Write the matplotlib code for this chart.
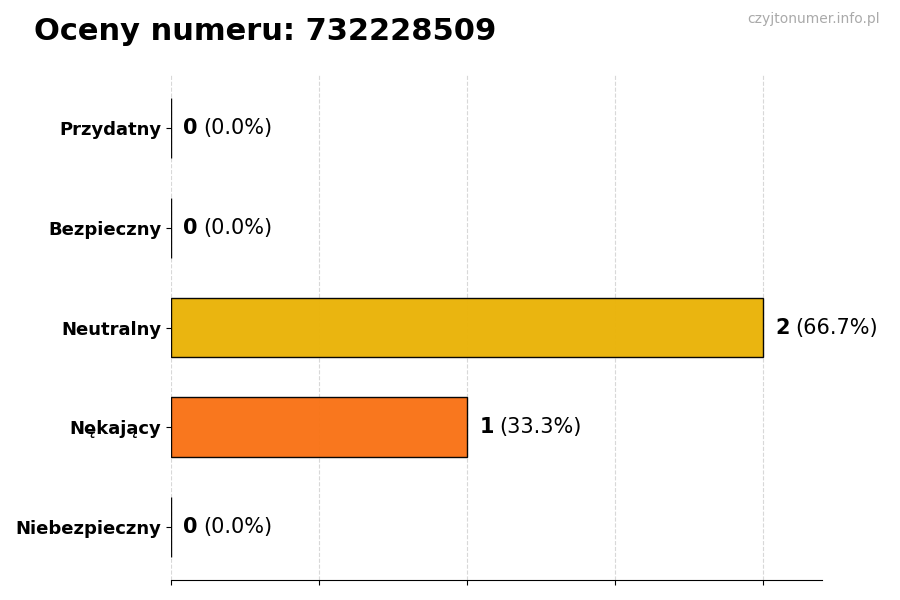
import numpy as np
from matplotlib import pyplot as plt

categories = ['Przydatny', 'Bezpieczny', 'Neutralny', 'Nękający', 'Niebezpieczny']
counts = [0, 0, 2, 1, 0]
colors = ['#22c55e', '#3b82f6', '#eab308', '#f97316', '#ef4444']
phone = '732228509'

total = sum(counts)
percents = [100.0 * c / total if total else 0.0 for c in counts]

fig = plt.figure(figsize=(9, 6), dpi=100)
ax = fig.add_axes([0.19, 0.0333, 0.723, 0.8417])

y = np.arange(len(categories))[::-1]
ax.barh(y, counts, height=0.6, color=colors, edgecolor='black',
        linewidth=1, alpha=0.97, zorder=3)

ax.set_yticks(y)
ax.set_yticklabels(categories, fontsize=13, fontweight='bold')
ax.set_xlim(0, max(counts) * 1.1)
ax.set_xticks(np.arange(0, max(counts) + 0.01, 0.5))
ax.set_xticklabels([])
ax.grid(axis='x', linestyle='--', color='#d8d8d8', linewidth=0.8, zorder=0)
ax.set_axisbelow(True)

for side in ['top', 'right', 'left']:
    ax.spines[side].set_visible(False)

# value in bold, percent in normal weight right after it
for yi, c, p in zip(y, counts, percents):
    t = ax.annotate(str(c), xy=(c, yi), xytext=(9, 0), textcoords='offset points',
                    va='center', ha='left', fontsize=15, fontweight='bold')
    ax.annotate(f'({p:.1f}%)', xy=(1, 0.5), xycoords=t, xytext=(4, 0),
                textcoords='offset points', va='center', ha='left', fontsize=15)

fig.text(0.038, 0.947, f'Oceny numeru: {phone}', fontsize=22, fontweight='bold',
         va='center', ha='left')
fig.text(0.978, 0.969, 'czyjtonumer.info.pl', fontsize=10, color='#aaaaaa',
         va='center', ha='right')

fig.savefig('out.png', dpi=100)
